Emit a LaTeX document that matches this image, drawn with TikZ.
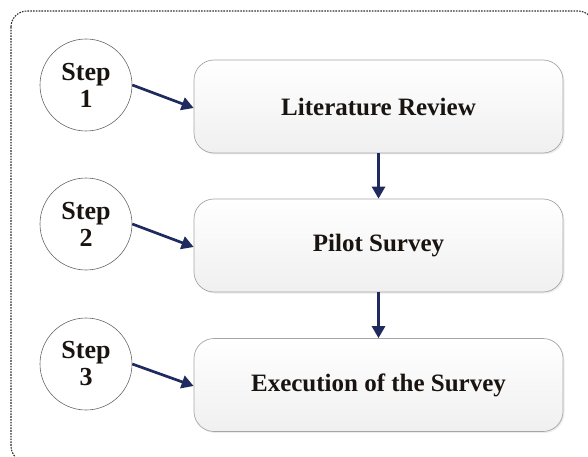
\documentclass[tikz,border=0pt]{standalone}
\usepackage{fontspec}
\setmainfont{Liberation Serif}
\usetikzlibrary{arrows.meta,shadows}
\definecolor{navy}{HTML}{1F2A5E}
\definecolor{txt}{HTML}{1A1410}
\begin{document}
\begin{tikzpicture}[x=1pt,y=-1pt,
  stepcirc/.style={circle,draw=gray!80!black,line width=0.6pt,fill=white,minimum size=92pt,inner sep=0pt,align=center,text=txt,font=\bfseries\fontsize{26}{27}\selectfont},
  procbox/.style={rounded corners=20pt,draw=gray!70,line width=0.7pt,top color=white,bottom color=gray!12,minimum width=369pt,minimum height=93pt,text=txt,font=\bfseries\fontsize{25}{28}\selectfont,drop shadow={opacity=0.15,shadow xshift=1.5pt,shadow yshift=-1.5pt}},
  conn/.style={draw=navy,line width=2.7pt,-{Triangle[length=12pt,width=13pt]}}]
\useasboundingbox (0,0) rectangle (588,457);
\draw[gray!35!black,dash pattern=on 1.6pt off 1.2pt,line width=1.1pt,rounded corners=16pt] (11,11) rectangle (594,462);
\node[stepcirc] (c1) at (86,85) {Step\\1};
\node[stepcirc] (c2) at (86,224) {Step\\2};
\node[stepcirc] (c3) at (86,364) {Step\\3};
\node[procbox] (b1) at (378.5,106.5) {Literature Review};
\node[procbox] (b2) at (378.5,245.5) {Pilot Survey};
\node[procbox] (b3) at (378.5,385) {Execution of the Survey};
\draw[conn] (c1.east) -- (b1.west|-0,108);
\draw[conn] (c2.east) -- (b2.west|-0,247);
\draw[conn] (c3.east) -- (b3.west|-0,386);
\draw[conn] (b1.south) -- (b2.north);
\draw[conn] (b2.south) -- (b3.north);
\end{tikzpicture}
\end{document}
